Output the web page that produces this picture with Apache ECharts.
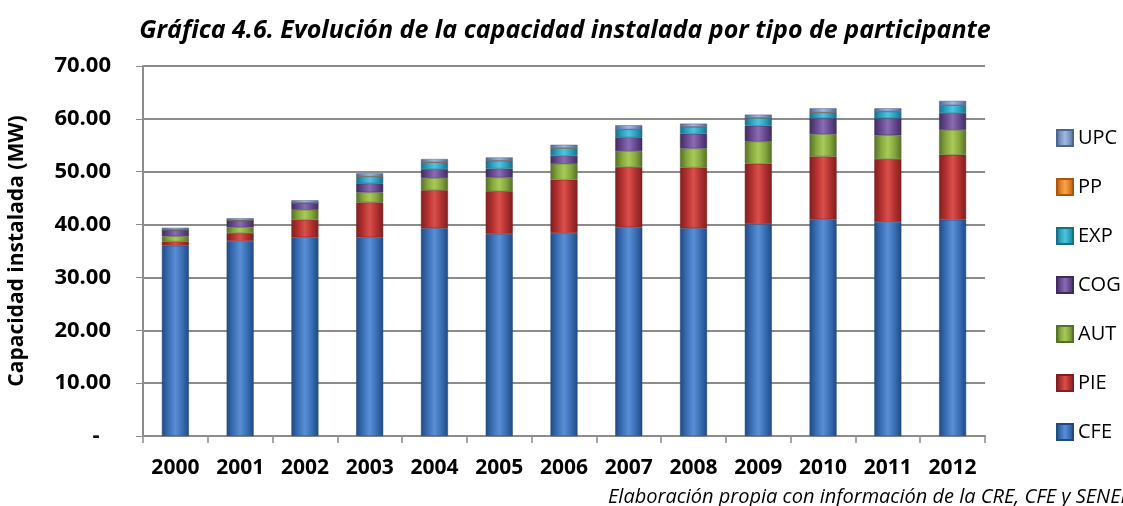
<!DOCTYPE html>
<html>
<head>
<meta charset="utf-8">
<script src="https://cdn.jsdelivr.net/npm/echarts@6/dist/echarts.min.js"></script>
<style>
  html, body { margin: 0; padding: 0; background: #fff; }
  #main { width: 1123px; height: 506px; }
</style>
</head>
<body>
<div id="main"></div>
<script>
// años
const years = ['2000','2001','2002','2003','2004','2005','2006','2007','2008','2009','2010','2011','2012'];
// capacidad por tipo de participante
const cfe = [36.0, 36.9, 37.6, 37.6, 39.3, 38.2, 38.4, 39.5, 39.3, 40.1, 41.0, 40.5, 40.9];
const pie = [0.8, 1.5, 3.3, 6.6, 7.2, 8.1, 10.1, 11.4, 11.5, 11.4, 11.9, 11.9, 12.3];
const aut = [1.0, 1.1, 1.9, 1.9, 2.3, 2.6, 3.0, 3.0, 3.6, 4.2, 4.2, 4.5, 4.7];
const cog = [1.2, 1.3, 1.3, 1.7, 1.7, 1.7, 1.5, 2.6, 2.8, 3.0, 3.0, 3.2, 3.2];
const exp = [0, 0, 0, 1.3, 1.3, 1.5, 1.5, 1.5, 1.3, 1.5, 1.1, 1.3, 1.5];
const pp  = [0, 0, 0, 0, 0, 0, 0, 0, 0, 0, 0, 0, 0];
const upc = [0.4, 0.4, 0.5, 0.6, 0.6, 0.6, 0.6, 0.8, 0.6, 0.6, 0.8, 0.6, 0.8];

const legendOrder = ['UPC','PP','EXP','COG','AUT','PIE','CFE'];

// colores: borde oscuro, centro claro
function bevel(dark, mid, light){
    return new echarts.graphic.LinearGradient(0, 0, 1, 0, [
        {offset: 0, color: dark},
        {offset: 0.25, color: mid},
        {offset: 0.5, color: light},
        {offset: 0.75, color: mid},
        {offset: 1, color: dark}
    ]);
}

function serie(name, data, dark, mid, light){
    return {
        name: name,
        type: 'bar',
        stack: 'total',
        barWidth: 27,
        data: data,
        itemStyle: {
            color: bevel(dark, mid, light),
            borderColor: dark,
            borderWidth: 0.5
        }
    };
}

let myChart = echarts.init(document.getElementById('main'));
let option = {
    animation: false,
    title: {
        text: 'Gráfica 4.6. Evolución de la capacidad instalada por tipo de participante',
        left: 560,
        textAlign: 'center',
        top: 13,
        textStyle: {
            fontFamily: 'Open Sans',
            fontStyle: 'italic',
            fontWeight: 'bold',
            fontSize: 25,
            color: '#000'
        }
    },
    legend: {
        orient: 'vertical',
        left: 1051,
        top: 122,
        itemGap: 27,
        itemWidth: 16,
        itemHeight: 16,
        data: legendOrder.map(n => ({name: n, icon: 'rect'})),
        textStyle: {
            fontFamily: 'Open Sans',
            fontSize: 20,
            lineHeight: 22,
            color: '#000'
        }
    },
    grid: {
        left: 143,
        right: 138,
        top: 66,
        bottom: 70,
        outerBoundsMode: 'none'
    },
    xAxis: {
        type: 'category',
        data: years,
        axisLine: {lineStyle: {color: '#8c8c8c', width: 2}},
        axisTick: {show: true, length: 7, lineStyle: {color: '#8c8c8c', width: 1.5}},
        axisLabel: {
            interval: 0,
            margin: 22,
            fontFamily: 'Open Sans',
            fontWeight: 'bold',
            fontSize: 21,
            color: '#000'
        }
    },
    yAxis: {
        type: 'value',
        min: 0,
        max: 70,
        interval: 10,
        name: 'Capacidad instalada (MW)',
        nameLocation: 'middle',
        nameGap: 115,
        nameTextStyle: {
            fontFamily: 'Open Sans',
            fontWeight: 'bold',
            fontSize: 21,
            color: '#000'
        },
        axisLine: {show: true, lineStyle: {color: '#8c8c8c', width: 2}},
        axisTick: {show: true, length: 7, lineStyle: {color: '#8c8c8c'}},
        splitLine: {lineStyle: {color: '#8c8c8c', width: 2}},
        axisLabel: {
            margin: 32,
            fontFamily: 'Open Sans',
            fontWeight: 'bold',
            fontSize: 22,
            color: '#000',
            formatter: v => v === 0 ? '-  ' : v.toFixed(2)
        }
    },
    graphic: [{
        type: 'text',
        left: 608,
        top: 487,
        style: {
            text: 'Elaboración propia con información de la CRE, CFE y SENER',
            font: 'italic 20px "Open Sans"',
            fill: '#000'
        }
    }],
    series: [
        serie('CFE', cfe, '#1f4a82', '#3a6fb5', '#5a8fd6'),
        serie('PIE', pie, '#7e1f20', '#b3302f', '#d9504c'),
        serie('AUT', aut, '#55702a', '#86a83c', '#a9c95a'),
        serie('COG', cog, '#3f2c5e', '#66498f', '#8a6cb3'),
        serie('EXP', exp, '#1b6f85', '#2ba3c2', '#52c3de'),
        serie('PP',  pp,  '#a9560f', '#e57f22', '#f5a54d'),
        serie('UPC', upc, '#4f6591', '#7b95c5', '#a3b8dd')
    ]
};
myChart.setOption(option);
</script>
</body>
</html>
